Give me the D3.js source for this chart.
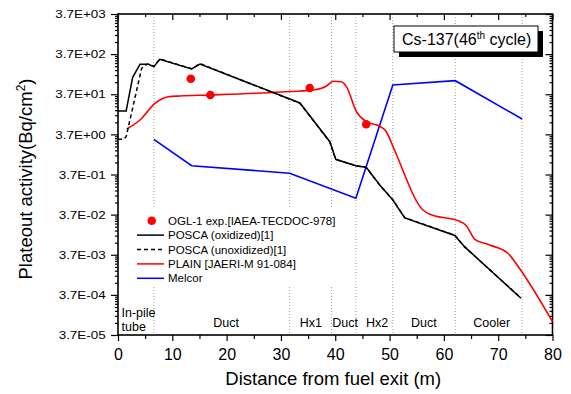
<!DOCTYPE html>
<html>
<head>
<meta charset="utf-8">
<script src="https://cdn.jsdelivr.net/npm/d3@7"></script>
<style>
body { margin: 0; background: #fff; }
svg { font-family: "Liberation Sans", Arial, sans-serif; }
</style>
</head>
<body>
<div id="chart"></div>
<script>
// data: [distance (m), activity (Bq/cm2)]
var poscaOxidized = [[0,14.2],[1.5,14.2],[2.7,98],[4.05,206],[5.6,206],[6.6,180],[7.7,275],[13.55,158],[15.1,210],
  [33.5,22.4],[39,2.43],[40.1,0.886],[43.9,0.603],[45.7,0.56],[48.2,0.203],[50.6,0.0858],[52.8,0.0306],
  [62,0.0112],[63.8,0.00588],[74.2,0.000304]];
var poscaUnoxidized = [[0,2.79],[1.0,2.79],[1.5,3.24],[4.35,164],[5.2,204],[5.6,208],[6.6,182],[7.7,280],[13.55,160],[15.1,214],
  [33.5,22.0],[39,2.4],[40.1,0.87],[43.9,0.61],[45.7,0.55],[48.2,0.2],[50.6,0.087],[52.8,0.031],
  [62,0.0114],[63.8,0.0058],[74.2,0.00031]];
var plain = [[1.6,5.05],[4.05,8.45],[6.8,22.0],[9.25,32.2],[11.4,33.5],[16.9,35.5],[30,42.1],[35.9,47.3],[38.4,59.5],
  [39.6,77.8],[41.1,76.1],[42.05,57.2],[43.9,13.6],[45.7,7.67],[48.2,5.89],[49.4,4.32],[50.9,1.51],[56.15,0.0483],
  [57.4,0.0378],[62.9,0.0253],[64.1,0.0199],[65.7,0.009],[68.4,0.00649],[71.8,0.00403],[73.9,0.0017],[80,0.0000794]];
var melcor = [[6.6,2.79],[13.55,0.614],[31.6,0.397],[43.8,0.0945],[50.6,63.0],[62.1,80.6],[74.4,8.95]];
var oglExp = [[13.4,90.4],[17.0,35.5],[35.3,53.0],[45.7,6.61]];

var yTickValues = [3.7e-5, 3.7e-4, 3.7e-3, 3.7e-2, 3.7e-1, 3.7e0, 3.7e1, 3.7e2, 3.7e3];
var yTickLabels = ["3.7E-05","3.7E-04","3.7E-03","3.7E-02","3.7E-01","3.7E+00","3.7E+01","3.7E+02","3.7E+03"];
var xTickValues = [0, 10, 20, 30, 40, 50, 60, 70, 80];
var sectionEdges = [6.6, 31.6, 39.3, 43.8, 50.6, 62.1, 74.4];
var sectionNames = ["Duct", "Hx1", "Duct", "Hx2", "Duct", "Cooler"];
var sectionCenters = [19.9, 35.5, 41.8, 47.7, 56.3, 68.8];
var legendNames = ["OGL-1 exp.[IAEA-TECDOC-978]", "POSCA (oxidized)[1]", "POSCA (unoxidized)[1]",
  "PLAIN [JAERI-M 91-084]", "Melcor"];

var margin = {top: 14, right: 18.5, bottom: 59, left: 118},
    width = 571 - margin.left - margin.right,
    height = 394 - margin.top - margin.bottom;

var svg = d3.select("#chart").append("svg")
    .attr("width", 571)
    .attr("height", 394)
  .append("g")
    .attr("transform", "translate(" + margin.left + "," + margin.top + ")");

var x = d3.scaleLinear().domain([0, 80]).range([0, width]);
var y = d3.scaleLog().domain([3.7e-5, 3.7e3]).range([height, 0]);

// minor ticks
var yMinor = [];
yTickValues.slice(0, -1).forEach(function(v){
  for (var m = 2; m <= 9; m++) yMinor.push(v * m);
});
var xMinor = [5, 15, 25, 35, 45, 55, 65, 75];

// section dividers
svg.selectAll(".divider")
    .data(sectionEdges)
  .enter().append("line")
    .attr("class", "divider")
    .attr("x1", function(d){ return x(d); })
    .attr("x2", function(d){ return x(d); })
    .attr("y1", 0)
    .attr("y2", height)
    .attr("stroke", "#a0a0a0")
    .attr("stroke-width", 1)
    .attr("stroke-dasharray", "1,2");

// axes
function styleAxis(g){
  g.select(".domain").remove();
  g.selectAll("line").attr("stroke", "#000").attr("stroke-width", 1.2);
}

svg.append("g")
    .attr("transform", "translate(0," + height + ")")
    .call(d3.axisBottom(x).tickValues(xMinor).tickSize(4).tickFormat(""))
    .call(styleAxis);
svg.append("g")
    .attr("class", "x axis")
    .attr("transform", "translate(0," + height + ")")
    .call(d3.axisBottom(x).tickValues(xTickValues).tickSize(6).tickPadding(8).tickFormat(d3.format("d")))
    .call(styleAxis)
    .selectAll("text")
    .style("font-size", "16px")
    .attr("fill", "#000");
svg.append("g")
    .call(d3.axisBottom(x).tickValues(xTickValues).tickSize(6).tickFormat(""))
    .call(g => g.selectAll("line").attr("y2", 6))
    .call(styleAxis);
svg.append("g")
    .call(d3.axisBottom(x).tickValues(xMinor).tickSize(3).tickFormat(""))
    .call(styleAxis);

svg.append("g")
    .call(d3.axisLeft(y).tickValues(yMinor).tickSize(3).tickFormat(""))
    .call(styleAxis);
var yAx = svg.append("g")
    .attr("class", "y axis")
    .call(d3.axisLeft(y).tickValues(yTickValues).tickSize(7).tickFormat(function(d, i){ return yTickLabels[i]; }))
    .call(styleAxis);
yAx.selectAll("text")
    .style("font-size", "11.5px")
    .attr("fill", "#000")
    .attr("x", -10.5)
    .attr("transform", "scale(1.17,1)");

svg.append("g")
    .attr("transform", "translate(" + width + ",0)")
    .call(d3.axisLeft(y).tickValues(yMinor).tickSize(3).tickFormat(""))
    .call(styleAxis);
svg.append("g")
    .attr("transform", "translate(" + width + ",0)")
    .call(d3.axisLeft(y).tickValues(yTickValues).tickSize(7).tickFormat(""))
    .call(styleAxis);

// frame
svg.append("rect")
    .attr("width", width)
    .attr("height", height)
    .attr("fill", "none")
    .attr("stroke", "#000")
    .attr("stroke-width", 1.6);

// section labels
svg.selectAll(".section")
    .data(sectionNames)
  .enter().append("text")
    .attr("class", "section")
    .attr("x", function(d, i){ return x(sectionCenters[i]); })
    .attr("y", height - 8)
    .attr("text-anchor", "middle")
    .style("font-size", "12.5px")
    .text(function(d){ return d; });
svg.append("text")
    .attr("x", 3.5)
    .attr("y", height - 18)
    .style("font-size", "12.5px")
    .text("In-pile");
svg.append("text")
    .attr("x", 3.5)
    .attr("y", height - 4)
    .style("font-size", "12.5px")
    .text("tube");

// curves
var line = d3.line()
    .x(function(d){ return x(d[0]); })
    .y(function(d){ return y(d[1]); });
var smooth = d3.line()
    .curve(d3.curveMonotoneX)
    .x(function(d){ return x(d[0]); })
    .y(function(d){ return y(d[1]); });

svg.append("path").datum(melcor)
    .attr("d", line).attr("fill", "none").attr("stroke", "#0000ff").attr("stroke-width", 1.6);
svg.append("path").datum(plain)
    .attr("d", smooth).attr("fill", "none").attr("stroke", "#ff0000").attr("stroke-width", 1.6);
svg.append("path").datum(poscaUnoxidized)
    .attr("d", line).attr("fill", "none").attr("stroke", "#000").attr("stroke-width", 1.5)
    .attr("stroke-dasharray", "4,3");
svg.append("path").datum(poscaOxidized)
    .attr("d", line).attr("fill", "none").attr("stroke", "#000").attr("stroke-width", 1.5);

svg.selectAll(".point")
    .data(oglExp)
  .enter().append("circle")
    .attr("class", "point")
    .attr("r", 4.3)
    .attr("cx", function(d){ return x(d[0]); })
    .attr("cy", function(d){ return y(d[1]); })
    .attr("fill", "#ff0000");

// legend
var lg = svg.append("g").attr("transform", "translate(" + (135 - margin.left) + "," + (207 - margin.top) + ")");
lg.append("rect").attr("width", 206).attr("height", 80).attr("fill", "#fff");
var rowY = function(i){ return 13.7 + i * 14.4; };
lg.append("circle").attr("cx", 16.7).attr("cy", rowY(0)).attr("r", 4.3).attr("fill", "#ff0000");
var legStroke = [null, "#000", "#000", "#ff0000", "#0000ff"];
var legDash = [null, null, "4,3", null, null];
legendNames.forEach(function(name, i){
  if (i > 0) {
    lg.append("line")
      .attr("x1", 2).attr("x2", 29)
      .attr("y1", rowY(i)).attr("y2", rowY(i))
      .attr("stroke", legStroke[i]).attr("stroke-width", 1.5)
      .attr("stroke-dasharray", legDash[i]);
  }
  lg.append("text")
    .attr("x", 33)
    .attr("y", rowY(i) + 4)
    .style("font-size", "11.5px")
    .text(name);
});

// title box
var tb = svg.append("g").attr("transform", "translate(" + (394 - margin.left) + "," + (26 - margin.top) + ")");
tb.append("rect").attr("x", 5).attr("y", 5).attr("width", 144).attr("height", 26).attr("fill", "#000");
tb.append("rect").attr("width", 144).attr("height", 26).attr("fill", "#fff").attr("stroke", "#000").attr("stroke-width", 1);
var tt = tb.append("text").attr("x", 8).attr("y", 19).style("font-size", "16px");
tt.append("tspan").text("Cs-137(46");
tt.append("tspan").attr("dy", -6).style("font-size", "10px").text("th");
tt.append("tspan").attr("dy", 6).text(" cycle)");

// axis titles
svg.append("text")
    .attr("x", width / 2 - 2)
    .attr("y", height + 50)
    .attr("text-anchor", "middle")
    .style("font-size", "18.5px")
    .text("Distance from fuel exit (m)");
var yt = svg.append("text")
    .attr("transform", "translate(" + (32 - margin.left) + "," + (179 - margin.top) + ") rotate(-90)")
    .attr("text-anchor", "middle")
    .style("font-size", "18.5px");
yt.append("tspan").text("Plateout activity(Bq/cm");
yt.append("tspan").attr("dy", -7).style("font-size", "12px").text("2");
yt.append("tspan").attr("dy", 7).text(")");
</script>
</body>
</html>
